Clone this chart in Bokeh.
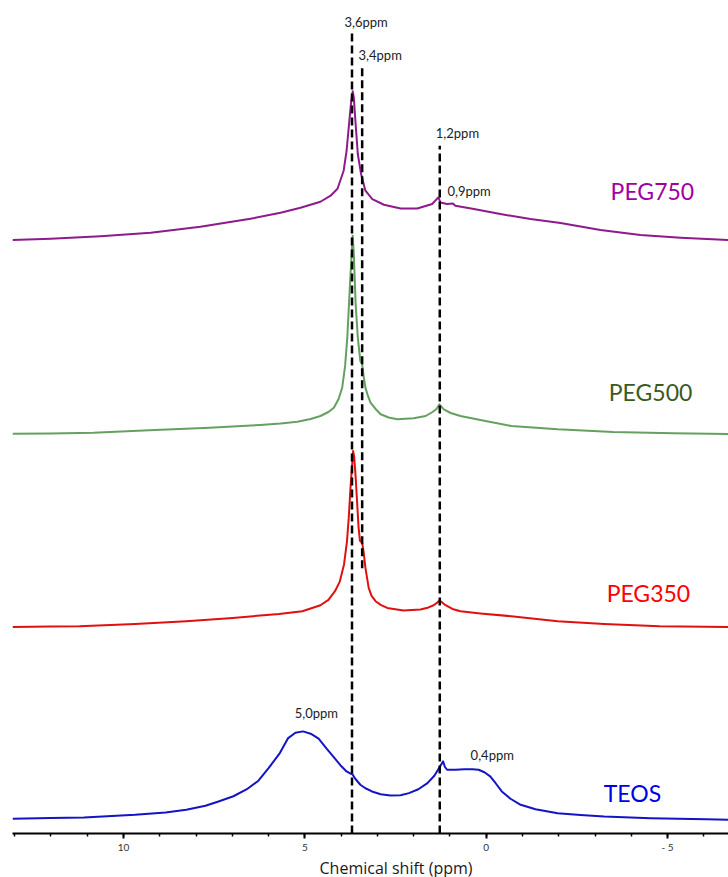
import numpy as np
from bokeh.plotting import figure
from bokeh.models import Range1d, SingleIntervalTicker, CustomJSTickFormatter, Title
from bokeh.core.properties import value
from bokeh.embed import file_html
from bokeh.resources import INLINE

# ---------------- data (chemical shift in ppm, intensity in arbitrary units) ----------------
teos_ppm = [13.06, 12.01, 11.09, 9.68, 8.84, 8.27, 7.74, 7.38, 6.97, 6.61, 6.28, 6.00, 5.70, 5.46,
            5.26, 5.05, 4.84, 4.62, 4.40, 4.18, 4.02, 3.85, 3.74, 3.69, 3.61, 3.47, 3.33, 3.15,
            2.91, 2.64, 2.36, 2.13, 1.87, 1.62, 1.43, 1.30, 1.19, 1.14, 1.08, 0.85, 0.60, 0.38,
            0.21, 0.05, -0.11, -0.26, -0.43, -0.67, -0.95, -1.36, -1.97, -2.60, -3.25, -4.53,
            -6.07, -6.68]
teos_int = [0, 0.8, 1.3, 4, 6.3, 9, 13, 17.3, 22.5, 29.3, 38, 50.6, 65, 80.6,
            86, 87.3, 85, 80, 70, 60.6, 53.5, 47.3, 45, 44.6, 40, 34, 30.5, 27.3,
            24.5, 23.3, 23.6, 25.6, 29.5, 35.6, 43, 50.6, 57.3, 52, 49, 49, 49.5, 49.5,
            49, 46.5, 42.3, 35.5, 27.3, 20, 14, 9.5, 5.6, 3.8, 2.3, 0.6,
            -0.4, -1]

peg350_ppm = [13.06, 12.01, 11.21, 9.68, 8.27, 6.99, 5.71, 5.07, 4.57, 4.35, 4.17, 4.04, 3.92,
              3.84, 3.79, 3.74, 3.69, 3.67, 3.64, 3.60, 3.56, 3.52, 3.48, 3.42, 3.38, 3.33,
              3.24, 3.16, 3.05, 2.91, 2.73, 2.28, 1.81, 1.59, 1.45, 1.36, 1.29, 1.20, 1.12,
              0.93, 0.71, 0.16, -0.69, -1.97, -3.25, -4.78, -6.68]
peg350_int = [0, 0.5, 0.7, 3, 5.7, 9, 13, 15.7, 21.7, 27, 35.7, 45, 62.4,
              85, 109, 140, 165, 175.7, 170, 150, 125, 100, 86, 84, 75, 59,
              39, 31, 25.7, 22, 19, 16.4, 17.4, 19.5, 21.7, 24, 26.4, 24, 21.7,
              18, 15.7, 13.5, 10.7, 5.7, 3, 0.7, 0]

peg500_ppm = [13.06, 12.01, 10.83, 9.29, 7.63, 6.23, 5.67, 5.21, 4.84, 4.57, 4.35, 4.20, 4.07,
              3.97, 3.89, 3.83, 3.76, 3.71, 3.68, 3.65, 3.60, 3.54, 3.47, 3.42, 3.38, 3.33,
              3.26, 3.19, 3.05, 2.91, 2.69, 2.45, 2.00, 1.67, 1.48, 1.37, 1.29, 1.17, 0.98,
              0.71, 0.16, -0.69, -1.97, -3.50, -5.16, -6.68]
peg500_int = [0, 0.2, 1, 3.4, 6, 8.7, 10.2, 12, 14.7, 17.7, 21.7, 26, 34.7,
              46, 67.7, 96, 146, 179.4, 197.7, 179.4, 129.7, 96, 72.7, 69.4, 57.7, 46,
              37.7, 31, 24.7, 19.4, 16.2, 14.4, 15.4, 17.7, 21.7, 24.7, 29.4, 24.4, 20.7,
              17.7, 13.7, 7.7, 4.4, 1.7, 0.4, -0.3]

peg750_ppm = [13.06, 12.01, 10.63, 9.25, 7.88, 6.50, 5.67, 5.12, 4.57, 4.29, 4.10, 3.93, 3.85,
              3.79, 3.72, 3.68, 3.65, 3.60, 3.54, 3.45, 3.33, 3.14, 2.82, 2.36, 1.90, 1.49,
              1.32, 1.26, 1.08, 0.92, 0.85, 0.34, -0.39, -1.22, -2.05, -3.15, -4.25, -5.36,
              -6.68]
peg750_int = [0, 1.3, 3.8, 7.3, 13.3, 21.3, 27.3, 32.3, 38.3, 44.3, 51.3, 69.3, 89,
              112.6, 139.3, 148.6, 142.6, 116, 86, 66, 49.3, 41, 35.3, 31.6, 31.6, 36,
              42.6, 37.6, 36, 36.6, 34.3, 31, 26, 21, 17, 10, 5, 2.3,
              0]

series_names = ["TEOS", "PEG350", "PEG500", "PEG750"]
series_offsets = [14.7, 206.3, 399.3, 592.7]
series_ppm = [teos_ppm, peg350_ppm, peg500_ppm, peg750_ppm]
series_int = [teos_int, peg350_int, peg500_int, peg750_int]
line_colors = ["#1414c4", "#e01010", "#66a060", "#8e1a8c"]
text_colors = ["#0000e6", "#ff0000", "#3b5a22", "#a000a0"]
name_label_ppm = [-3.24, -3.32, -3.38, -3.43]
name_label_y = [40, 240, 441, 642]

# dashed reference lines
ref_ppm = [3.70, 3.42, 1.28]
ref_y0 = [0, 265, 0]
ref_y1 = [802, 767, 687]

# peak annotations
peak_texts = ["3,6ppm", "3,4ppm", "1,2ppm", "0,9ppm", "5,0ppm", "0,4ppm"]
peak_text_ppm = [3.91, 3.52, 1.39, 1.07, 5.28, 0.43]
peak_text_y = [811, 778, 700, 642, 120, 78]

x_title = "Chemical shift (ppm)"

# ---------------- figure ----------------
p = figure(width=728, height=877, output_backend="svg", toolbar_location=None,
           x_range=Range1d(13.06, -6.68), y_range=Range1d(0, 832),
           min_border_left=12, min_border_right=0, min_border_top=0, min_border_bottom=0)
p.outline_line_color = None
p.xgrid.visible = False
p.ygrid.visible = False
p.yaxis.visible = False
p.background_fill_color = "white"
p.border_fill_color = "white"

for ppm, inten, off, col in zip(series_ppm, series_int, series_offsets, line_colors):
    y = np.array(inten) + off
    p.line(ppm, y, line_color=col, line_width=2, line_join="round")

p.segment(x0=ref_ppm, y0=ref_y0, x1=ref_ppm, y1=ref_y1, line_color="black",
          line_width=2.5, line_dash="8 4")

p.text(x=peak_text_ppm, y=peak_text_y, text=peak_texts, text_font=value("Lato"),
       text_font_size="13px", text_color="#222222", text_align="left", text_baseline="middle")

p.text(x=name_label_ppm, y=name_label_y, text=series_names, text_font=value("Lato"),
       text_font_size="23px", text_color=text_colors, text_align="left", text_baseline="middle")

ax = p.xaxis[0]
ax.ticker = SingleIntervalTicker(interval=5, num_minor_ticks=5)
ax.formatter = CustomJSTickFormatter(code="return tick < 0 ? '- ' + Math.abs(tick) : String(tick);")
ax.axis_line_color = "black"
ax.axis_line_width = 2
ax.major_tick_in = 0
ax.major_tick_out = 5
ax.major_tick_line_width = 2
ax.minor_tick_in = 0
ax.minor_tick_out = 3
ax.minor_tick_line_width = 1.5
ax.major_label_text_font = "Lato"
ax.major_label_text_font_size = "10px"
ax.major_label_text_color = "#333333"
ax.major_label_standoff = 2

try:
    title = Title(text=x_title, align="left", offset=307, standoff=-2,
                  text_font="Open Sans", text_font_size="16px", text_font_style="normal",
                  text_color="#1a1a1a")
except Exception:
    title = Title(text=x_title, align="left", offset=307, standoff=0,
                  text_font="Open Sans", text_font_size="16px", text_font_style="normal",
                  text_color="#1a1a1a")
p.add_layout(title, "below")

open("out.html", "w").write(file_html(p, INLINE))
